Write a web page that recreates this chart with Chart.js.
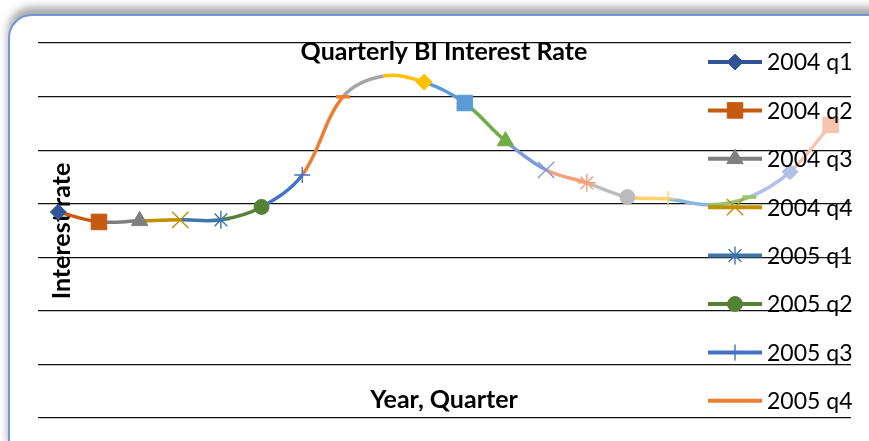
<!DOCTYPE html>
<html>
<head>
<meta charset="utf-8">
<script src="https://cdn.jsdelivr.net/npm/chart.js@4/dist/chart.umd.min.js"></script>
<style>
  html, body { margin: 0; padding: 0; background: #fff; overflow: hidden; }
  #frame {
    position: absolute; left: 8px; top: 14px; width: 880px; height: 450px;
    border: 2px solid #7396d8; border-radius: 24px; background: #fff;
    box-shadow: 0 -7px 9px rgba(0, 0, 0, 0.35);
  }
  #wrap { position: absolute; left: 0; top: 0; width: 869px; height: 441px; }
</style>
</head>
<body>
<div id="frame"></div>
<div id="wrap"><canvas id="chart" width="869" height="441"></canvas></div>
<script>
// quarters (only the first 8 fit in the legend)
const quarters = [
  "2004 q1", "2004 q2", "2004 q3", "2004 q4",
  "2005 q1", "2005 q2", "2005 q3", "2005 q4",
  "2006 q1", "2006 q2", "2006 q3", "2006 q4",
  "2007 q1", "2007 q2", "2007 q3", "2007 q4",
  "2008 q1", "2008 q2", "2008 q3", "2008 q4"
];
// BI rate, %
const rates = [
  7.69, 7.32, 7.36, 7.40, 7.40, 7.88, 9.07, 11.99, 12.77, 12.54,
  11.76, 10.34, 9.26, 8.78, 8.25, 8.18, 7.96, 8.25, 9.19, 10.94
];
const yTicks = [0, 2, 4, 6, 8, 10, 12, 14];
const legendCount = 8;

// one colour / marker per point, like Excel's "vary colours by point"
const pointColors = [
  "#2f5597", "#c55a11", "#7f7f7f", "#bf9000", "#3e75ab", "#548235",
  "#4472c4", "#ed7d31", "#a5a5a5", "#ffc000", "#5b9bd5", "#70ad47",
  "#7f9adb", "#f4a07a", "#bcbcbc", "#ffd26a", "#8db7e2", "#93c572",
  "#b0c0e6", "#f6c4af"
];
const markers = [
  "rectRot", "rect", "triangle", "crossRot", "star", "circle", "cross", "line", false,
  "rectRot", "rect", "triangle", "crossRot", "star", "circle", "cross", false, "line",
  "rectRot", "rect"
];
const markerRadius = { rectRot: 8, rect: 11, triangle: 9.5, crossRot: 11.5, star: 9, circle: 7.5, cross: 8, line: 7 };
const markerBorder = { rectRot: 1, rect: 1, triangle: 1, crossRot: 1.4, star: 1.4, circle: 1, cross: 1.4, line: 3.5 };

const font = "Lato, 'Open Sans', sans-serif";

function label(ctx, text, x, y, rot) {
  ctx.save();
  ctx.fillStyle = "#000";
  ctx.font = "bold 25px " + font;
  ctx.textAlign = "center";
  ctx.textBaseline = "middle";
  ctx.translate(x, y);
  if (rot) ctx.rotate(rot);
  ctx.fillText(text, 0, 0);
  ctx.restore();
}

const textPlugin = {
  id: "texts",
  beforeDatasetsDraw(chart) {
    label(chart.ctx, "Interest rate", 62, 231, -Math.PI / 2);
    label(chart.ctx, "Year, Quarter", 444, 400);
  },
  afterDraw(chart) {
    const ctx = chart.ctx;
    label(ctx, "Quarterly BI Interest Rate", 444, 52);

    // legend
    for (let i = 0; i < legendCount; i++) {
      const y = 62 + i * 48.4;
      const c = pointColors[i];
      ctx.save();
      ctx.strokeStyle = c;
      ctx.fillStyle = c;
      ctx.lineWidth = 4;
      ctx.beginPath();
      ctx.moveTo(708, y);
      ctx.lineTo(762, y);
      ctx.stroke();
      const m = markers[i];
      if (m && m !== "line") {
        ctx.lineWidth = markerBorder[m];
        Chart.helpers.drawPoint(ctx, {
          pointStyle: m, radius: markerRadius[m], rotation: 0, borderWidth: markerBorder[m]
        }, 735, y);
      }
      ctx.fillStyle = "#000";
      ctx.font = "23px " + font;
      ctx.textAlign = "left";
      ctx.textBaseline = "middle";
      ctx.fillText(quarters[i], 767, y + 1);
      ctx.restore();
    }
  }
};

new Chart(document.getElementById("chart"), {
  type: "line",
  data: {
    labels: quarters,
    datasets: [{
      data: rates,
      borderWidth: 3.5,
      tension: 0.35,
      segment: { borderColor: (s) => pointColors[s.p1DataIndex] },
      borderColor: pointColors[0],
      pointStyle: markers,
      pointRadius: markers.map((m) => (m ? markerRadius[m] : 0)),
      pointBorderWidth: markers.map((m) => (m ? markerBorder[m] : 0)),
      pointBackgroundColor: pointColors,
      pointBorderColor: pointColors
    }]
  },
  options: {
    responsive: false,
    animation: false,
    events: [],
    layout: { padding: { left: 38, right: 18, top: 43, bottom: 23 } },
    plugins: { legend: { display: false }, tooltip: { enabled: false }, title: { display: false } },
    scales: {
      x: {
        offset: true,
        grid: { display: false, drawTicks: false },
        border: { display: false },
        ticks: { display: false },
        afterFit(s) { s.height = 0; }
      },
      y: {
        min: yTicks[0],
        max: yTicks[yTicks.length - 1],
        afterBuildTicks(s) { s.ticks = yTicks.map((v) => ({ value: v })); },
        ticks: { display: false },
        grid: { color: "#111", lineWidth: 1.2, drawTicks: false },
        border: { display: false },
        afterFit(s) { s.width = 0; }
      }
    }
  },
  plugins: [textPlugin]
});
</script>
</body>
</html>
